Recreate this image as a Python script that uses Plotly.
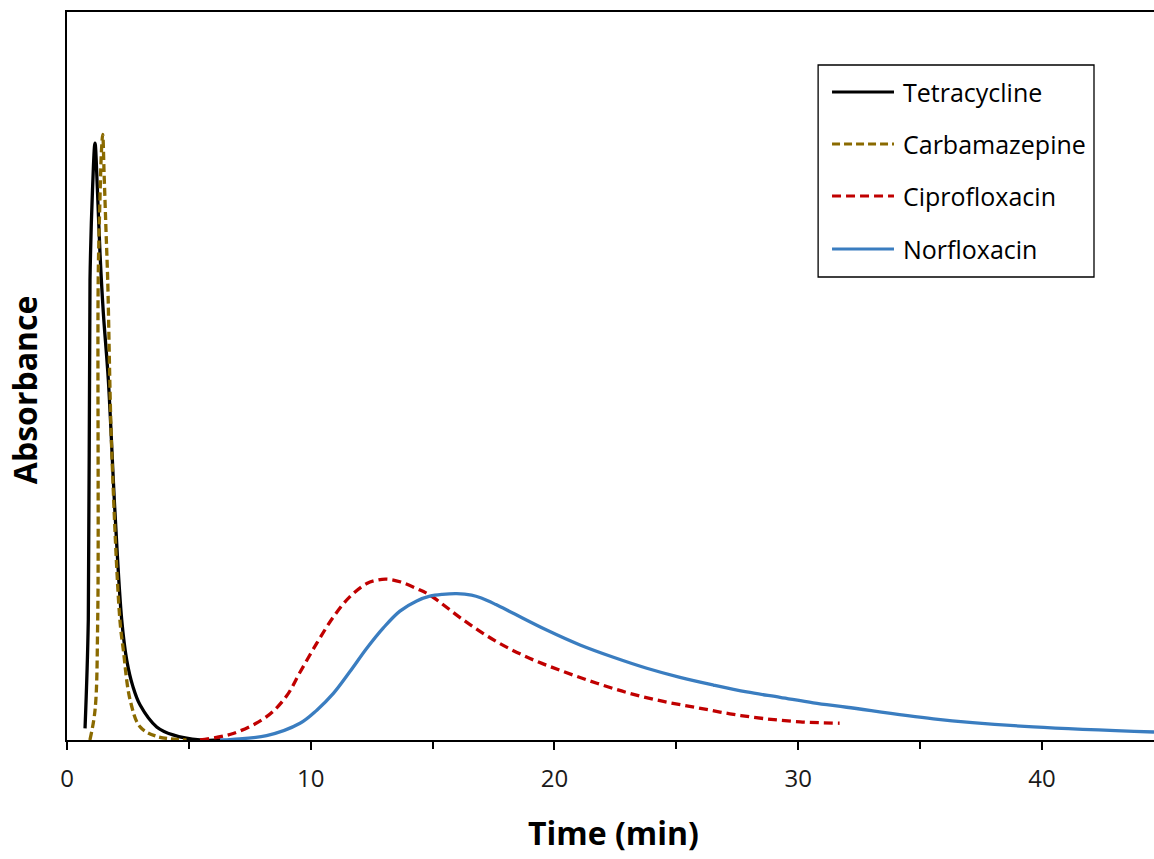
import plotly.graph_objects as go

# ---- data (time in min, absorbance in arbitrary units) ----
tetra_t = [0.74, 0.874, 0.944, 1.046, 1.149, 1.243, 1.354, 1.49, 1.695, 1.97, 2.245, 2.45, 2.70, 3.0, 3.68, 4.35, 5.46, 6.3]
tetra_v = [1.6, 16.5, 63.2, 75.5, 82.0, 76.0, 66.9, 58.7, 49.5, 31.2, 16.5, 11.0, 7.4, 4.8, 1.8, 0.7, 0.0, 0.0]

carba_t = [0.94, 1.15, 1.26, 1.28, 1.35, 1.415, 1.465, 1.52, 1.60, 1.67, 1.83, 2.17, 2.31, 2.59, 3.0, 3.68, 4.9]
carba_v = [0.0, 4.1, 16.5, 63.2, 74.0, 81.0, 83.2, 78.0, 70.0, 63.2, 40.3, 16.5, 12.4, 5.5, 1.8, 0.5, 0.0]

cipro_t = [5.46, 6.82, 8.19, 9.0, 9.56, 10.25, 10.93, 11.61, 12.3, 12.7, 13.12, 13.7, 14.35, 14.89, 16.26, 17.63,
           19.0, 20.37, 21.74, 23.1, 24.47, 25.84, 27.2, 28.57, 30.08, 31.7]
cipro_v = [0.0, 0.9, 3.2, 6.0, 9.3, 13.3, 16.9, 19.7, 21.5, 21.95, 22.1, 21.7, 20.8, 19.9, 16.5, 13.5,
           11.2, 9.4, 7.8, 6.4, 5.3, 4.45, 3.6, 2.95, 2.5, 2.3]

norflo_t = [6.28, 6.8, 8.19, 9.56, 10.25, 10.93, 11.61, 12.3, 12.98, 13.66, 14.35, 14.89, 15.4, 15.99, 16.6, 17.0,
            17.6, 18.31, 19.68, 21.05, 22.42, 23.79, 25.15, 26.52, 27.89, 29.26, 30.62, 31.99, 35.55, 39.65, 44.6]
norflo_v = [0.0, 0.1, 0.6, 2.3, 4.1, 6.4, 9.4, 12.6, 15.4, 17.7, 19.1, 19.75, 20.0, 20.1, 19.9, 19.5,
            18.6, 17.4, 15.1, 13.05, 11.36, 9.85, 8.6, 7.55, 6.6, 5.86, 5.1, 4.5, 2.9, 1.8, 1.1]

names = ["Tetracycline", "Carbamazepine", "Ciprofloxacin", "Norfloxacin"]
x_ticks = [0, 10, 20, 30, 40]

series = [
    (names[0], tetra_t, tetra_v, "#000000", "solid"),
    (names[1], carba_t, carba_v, "#8A6A00", "8px,4px"),
    (names[2], cipro_t, cipro_v, "#C00000", "9px,5px"),
    (names[3], norflo_t, norflo_v, "#3A7DC0", "solid"),
]

FONT = "Open Sans"
fig = go.Figure()
for name, t, v, col, dash in series:
    fig.add_trace(go.Scatter(
        x=t, y=v, mode="lines", name=name,
        line=dict(color=col, width=3.3, dash=dash, shape="spline", smoothing=1.0),
        showlegend=False,
    ))

# manual legend (box + samples + labels)
shapes = [dict(type="rect", xref="paper", yref="paper", x0=0.691, x1=0.9448, y0=0.636, y1=0.9272,
               line=dict(color="#000000", width=1.3), fillcolor="white", layer="above")]
annotations = []
row_y = [0.890, 0.8187, 0.7473, 0.6745]
for (name, t, v, col, dash), yy in zip(series, row_y):
    shapes.append(dict(type="line", xref="paper", yref="paper", x0=0.7038, x1=0.7608, y0=yy, y1=yy,
                       line=dict(color=col, width=3, dash=dash), layer="above"))
    annotations.append(dict(xref="paper", yref="paper", x=0.7672, y=yy, text=name, showarrow=False,
                            xanchor="left", yanchor="middle",
                            font=dict(family=FONT, size=25, color="#000000")))

annotations.append(dict(xref="paper", yref="paper", x=0.5025, y=-0.1277, text="<b>Time (min)</b>",
                        showarrow=False, xanchor="center", yanchor="middle",
                        font=dict(family=FONT, size=32, color="#000000")))
annotations.append(dict(xref="paper", yref="paper", x=-0.0385, y=0.4808, text="<b>Absorbance</b>",
                        showarrow=False, xanchor="center", yanchor="middle", textangle=-90,
                        font=dict(family=FONT, size=32, color="#000000")))

fig.update_layout(
    width=1154, height=859,
    margin=dict(l=67, r=0, t=12, b=119),
    plot_bgcolor="white", paper_bgcolor="white",
    shapes=shapes, annotations=annotations,
    xaxis=dict(range=[0, 44.6], tickvals=x_ticks, ticktext=[str(v) for v in x_ticks],
               ticks="outside", ticklen=8, tickwidth=1.5, tickcolor="#000000",
               minor=dict(dtick=5, tick0=0, ticks="outside", ticklen=7, tickwidth=1.5, tickcolor="#000000"),
               showline=True, linecolor="#000000", linewidth=2, mirror=True,
               showgrid=False, zeroline=False, ticklabelstandoff=8,
               tickfont=dict(family=FONT, size=24, color="#1a1a1a")),
    yaxis=dict(range=[0, 100], showticklabels=False, ticks="",
               showline=True, linecolor="#000000", linewidth=2,
               showgrid=False, zeroline=False),
)

fig.write_html("out.html", config={"displayModeBar": False})

# remove the default page margin so the figure sits at the window origin
with open("out.html", "r", encoding="utf-8") as f:
    html = f.read()
html = html.replace("<body>", '<body style="margin:0;padding:0;overflow:hidden;">', 1)
with open("out.html", "w", encoding="utf-8") as f:
    f.write(html)
